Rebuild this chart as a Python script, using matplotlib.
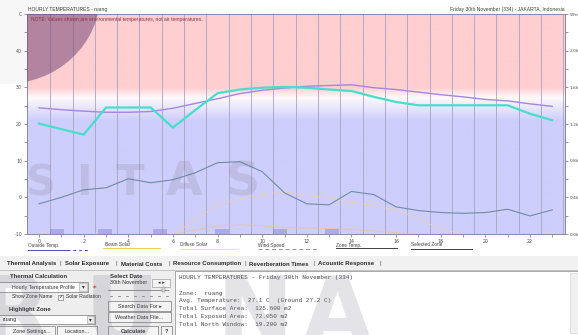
import numpy as np
import matplotlib
matplotlib.use("Agg")
import matplotlib.pyplot as plt
from matplotlib.patches import Rectangle, Ellipse

# ---------------- data ----------------
hours = list(range(24))
# environmental temperature of the zone (deg C)
zone_temp = [24.4, 23.9, 23.5, 23.2, 23.2, 23.4, 24.3, 25.6, 26.9, 28.3, 29.2, 29.8,
             30.3, 30.5, 30.7, 29.9, 29.4, 28.7, 28.0, 27.4, 26.7, 26.3, 25.5, 24.8]
# selected zone temperature (deg C)
selected_zone = [20.1, 18.6, 17.1, 24.5, 24.5, 24.5, 19.0, 23.8, 28.4, 29.4, 29.9, 30.1,
                 29.9, 29.4, 29.0, 27.4, 26.0, 25.1, 25.1, 25.1, 25.1, 25.1, 22.8, 21.0]
# radiation curves on the right axis (W/m2)
total_radiation = [329, 400, 482, 504, 603, 559, 592, 668, 778, 789, 680, 449,
                   329, 318, 464, 430, 296, 256, 234, 226, 234, 270, 197, 263]
beam_solar = [0, 0, 0, 0, 0, 0, 0, 150, 330, 380, 430, 460,
              420, 390, 350, 310, 260, 170, 50, 0, 0, 0, 0, 0]
diffuse_solar = [0, 0, 0, 0, 0, 0, 0, 45, 85, 100, 90, 70,
                 65, 60, 50, 35, 15, 0, 0, 0, 0, 0, 0, 0]

x_ticks = list(range(0, 24, 2))
temp_ticks = [-10, 0, 10, 20, 30, 40, 50]
temp_labels = ["-10", "0", "10", "20", "30", "40", "C"]
rad_ticks = [0, 400, 800, 1200, 1600, 2000, 2400]
rad_labels = ["0.0k", "0.4k", "0.8k", "1.2k", "1.6k", "2.0k", "W/m2"]

legend_items = ["Outside Temp.", "Beam Solar", "Diffuse Solar", "Wind Speed",
                "Zone Temp.", "Selected Zone"]
tabs = ["Thermal Analysis", "Solar Exposure", "Material Costs",
        "Resource Consumption", "Reverberation Times", "Acoustic Response"]
report_lines = [
    "HOURLY TEMPERATURES - Friday 30th November (334)",
    "",
    "Zone:  ruang",
    "Avg. Temperature:  27.1 C  (Ground 27.2 C)",
    "Total Surface Area:  125.600 m2",
    "Total Exposed Area:  72.050 m2",
    "Total North Window:  19.200 m2",
]

# ---------------- figure helpers (pixel coordinates, origin top-left) ----------------
W, H = 578, 335
fig = plt.figure(figsize=(W / 100, H / 100), dpi=100)
fig.patch.set_facecolor("white")
UI = ["Liberation Sans", "DejaVu Sans"]


def fx(x):
    return x / W


def fy(y):
    return 1 - y / H


def rect(x, y, w, h, fc, ec="none", lw=0.6, z=1, alpha=1.0):
    fig.patches.append(Rectangle((fx(x), fy(y + h)), w / W, h / H, transform=fig.transFigure,
                                 fc=fc, ec=ec, lw=lw, zorder=z, alpha=alpha))


def text(x, y, s, size=4.0, ha="left", va="center", **kw):
    kw.setdefault("family", UI)
    kw.setdefault("color", "#303030")
    fig.text(fx(x), fy(y), s, fontsize=size, ha=ha, va=va, **kw)


def hline(x0, x1, y, color, lw=0.7, ls="-"):
    fig.add_artist(plt.Line2D([fx(x0), fx(x1)], [fy(y), fy(y)], transform=fig.transFigure,
                              color=color, lw=lw, ls=ls))


# ---------------- chart ----------------
x_left, x_right = -0.54, 23.57
ax = fig.add_axes([fx(27), fy(234), (565 - 27) / W, (234 - 14) / H])
ax.set_xlim(x_left, x_right)
ax.set_ylim(-10, 50)

# comfort shading: warm band above 30 C, cool band below
pink = np.array([255, 206, 208]) / 255
white = np.array([253, 249, 251]) / 255
lav = np.array([206, 206, 252]) / 255
ty = np.linspace(-10, 50, 700)
cols = []
for t in ty:
    if t >= 30:
        c = pink
    elif t >= 27.2:
        f = (30 - t) / 2.8
        c = pink * (1 - f) + white * f
    elif t >= 21:
        f = (27.2 - t) / 6.2
        c = white * (1 - f) + lav * f
    else:
        c = lav
    cols.append(c)
img = np.array(cols)[:, None, :]
ax.imshow(img, extent=[x_left, x_right, -10, 50], origin="lower", aspect="auto", zorder=0)

for h in np.arange(0.5, 24, 1.0):
    ax.axvline(h, color="#a9a2c4", lw=0.6, zorder=1)


def to_temp_scale(values):
    # right axis 0..2400 W/m2 shares the frame with -10..50 C
    return [v / 40 - 10 for v in values]


ax.plot(hours, to_temp_scale(diffuse_solar), color="#ecc294", lw=0.6, alpha=0.85, zorder=2)
ax.plot(hours, to_temp_scale(beam_solar), color="#f0cfaa", lw=0.6, alpha=0.8, zorder=2)
ax.plot(hours, to_temp_scale(total_radiation), color="#6f8ca6", lw=0.8, zorder=3)
ax.plot(hours, zone_temp, color="#a585e6", lw=1.0, zorder=4)
ax.plot(hours, selected_zone, color="#45dfcc", lw=1.6, zorder=5)

ax.set_xticks(x_ticks)
ax.set_xticks(range(1, 24, 2), minor=True)
ax.set_yticks(temp_ticks)
ax.set_yticklabels(temp_labels)
ax.set_yticks(range(-5, 50, 10), minor=True)
ax.tick_params(axis="both", which="both", direction="out", length=2, width=0.5,
               colors="#707080", labelsize=3.4, pad=1.5, labelcolor="#505050")
for s in ax.spines.values():
    s.set_color("#8a88a8")
    s.set_linewidth(0.7)

ax2 = ax.twinx()
ax2.set_ylim(0, 2400)
ax2.set_yticks(rad_ticks)
ax2.set_yticklabels(rad_labels)
ax2.set_yticks(range(200, 2400, 400), minor=True)
ax2.tick_params(axis="y", which="both", direction="out", length=2, width=0.5,
                colors="#707080", labelsize=3.2, pad=1.2, labelcolor="#505050")
for s in ax2.spines.values():
    s.set_visible(False)

# titles and note
text(28, 9.5, "HOURLY TEMPERATURES - ruang", size=3.6, color="#404040")
text(565, 9.5, "Friday 30th November (334) - JAKARTA, Indonesia", size=3.6, ha="right", color="#404040")
text(31, 20, "NOTE: Values shown are environmental temperatures, not air temperatures.",
     size=3.6, color="#8a3040")

# legend row
leg_x = [28, 105, 180, 258, 336, 411]
for lx, lab in zip(leg_x, legend_items):
    text(lx, 245, lab, size=3.4, color="#404040")
hline(28, 67, 250, "#4a4ad8", lw=0.7)
hline(67, 88, 250, "#4a4ad8", lw=0.7, ls=(0, (3, 3)))
hline(103, 160, 248, "#e8d060", lw=0.7)
hline(180, 238, 249, "#eadfb0", lw=0.6)
hline(258, 317, 249, "#909090", lw=0.7, ls=(0, (4, 3)))
hline(336, 397, 247.5, "#404040", lw=0.7)
hline(411, 472, 249, "#404040", lw=0.7)

# ---------------- application panel ----------------
rect(0, 256, W, 14, "#f1f1f1")
rect(0, 269.5, W, 1.4, "#c4c4c4", z=2)
rect(0, 271, 175, 64, "#eeeeee")
rect(175, 271, 405, 66, "white", ec="#9a9a9a", lw=0.6, z=2)
rect(570, 273, 8, 60, "#f0f0f0", ec="#d0d0d0", lw=0.4, z=3)

tab_pos = [(56, "right"), (65, "left"), (121, "left"), (173, "left"), (249, "left"), (318, "left")]
for (tx, al), lab in zip(tab_pos, tabs):
    text(tx, 264, lab, size=4.3, ha=al, weight="bold", color="#2a2a2a")
for sx in [60, 116, 169, 245, 314, 380]:
    text(sx, 264, "|", size=4.5, ha="center", color="#606060")

for i, line in enumerate(report_lines):
    text(179, 277.5 + i * 7.8, line, size=4.35, family=["Liberation Mono", "DejaVu Sans Mono"],
         color="#4a4a4a")

# left controls
text(67, 277, "Thermal Calculation", size=4.3, ha="right", weight="bold")
rect(-2, 282, 90, 10, "white", ec="#8c8c8c", z=2)
text(75, 287, "Hourly Temperature Profile", size=3.8, ha="right")
rect(79, 283, 8, 8, "#ececec", ec="#a0a0a0", lw=0.4, z=3)
text(83, 287, "\u25be", size=4.0, ha="center", family=["DejaVu Sans"])
text(94, 287, "\u2736", size=4.6, ha="center", color="#e03030", family=["DejaVu Sans"])
text(52, 297, "Show Zone Name", size=3.6, ha="right")
rect(57.5, 294.5, 5, 5, "white", ec="#606060", lw=0.4, z=2)
text(60, 297, "\u2713", size=4.0, ha="center", family=["DejaVu Sans"])
text(66, 297, "Solar Radiation", size=3.6)
text(51, 310, "Highlight Zone", size=4.3, ha="right", weight="bold")
rect(-2, 315, 97, 9, "white", ec="#8c8c8c", z=2)
text(3, 319.5, "ruang", size=4.0)
rect(87, 316, 7, 7, "#ececec", ec="#a0a0a0", lw=0.4, z=3)
text(90.5, 319.5, "\u25be", size=4.0, ha="center", family=["DejaVu Sans"])
rect(-2, 326, 57, 11, "#f4f4f4", ec="#8c8c8c", z=2)
text(13, 331.5, "Zone Settings...", size=3.9)
rect(57, 326, 40, 11, "#f4f4f4", ec="#8c8c8c", z=2)
text(77, 331.5, "Location...", size=3.9, ha="center")

text(110, 276, "Select Date", size=4.3, weight="bold")
text(110, 282, "30th November", size=3.9)
rect(152, 279, 18, 8, "#f4f4f4", ec="#8c8c8c", lw=0.4, z=2)
text(161, 283, "\u25c2 \u25b8", size=3.6, ha="center", family=["DejaVu Sans"])
hline(108, 168, 290, "#808080", lw=0.6)
rect(162, 287, 3, 5, "#d8d8d8", ec="#707070", lw=0.3, z=3)
for k in range(8):
    hline(110 + k * 8, 111.5 + k * 8, 296, "#707070", lw=0.5)
rect(108, 301, 63, 10, "#f4f4f4", ec="#8c8c8c", z=2)
text(139.5, 306.5, "Search Data For \u25b8", size=3.9, ha="center")
rect(108, 312, 63, 10, "#f4f4f4", ec="#8c8c8c", z=2)
text(139.5, 317.5, "Weather Data File...", size=3.9, ha="center")
rect(108, 326, 50, 11, "#f4f4f4", ec="#8c8c8c", z=2)
text(133, 331.5, "Calculate", size=4.1, ha="center", weight="bold")
rect(161, 326, 11, 11, "#f4f4f4", ec="#8c8c8c", z=2)
text(166.5, 331.5, "?", size=4.1, ha="center", weight="bold")

# ---------------- translucent watermark ----------------
logo = Ellipse((fx(5), fy(-5)), 190 / W, 178 / H, transform=fig.transFigure,
               fc="#6e3c73", ec="none", alpha=0.5, zorder=6)
logo.set_clip_path(ax.patch)
ax.add_artist(logo)
fig.patches.append(Ellipse((fx(5), fy(-5)), 190 / W, 178 / H, transform=fig.transFigure,
                           fc="#9090a0", ec="none", alpha=0.07, zorder=0))

wm = dict(color="#7a7a8c", alpha=0.2, weight="bold", family=["DejaVu Sans"], zorder=20)
for lx, ch, sz in [(41, "S", 30), (84, "I", 30), (130, "T", 30), (184, "A", 34), (243, "S", 34)]:
    fig.text(fx(lx), fy(195), ch, fontsize=sz, ha="center", va="baseline", **wm)
for lx, ch in [(15, "R"), (122, "U"), (255, "N"), (337, "A")]:
    fig.text(fx(lx), fy(343), ch, fontsize=66, ha="center", va="baseline", **wm)
for bx in [57, 105, 160, 222, 280, 332]:
    rect(bx - 7, 229, 14, 5, "#6a6ac0", alpha=0.35, z=20)

fig.savefig("out.png", dpi=100)
